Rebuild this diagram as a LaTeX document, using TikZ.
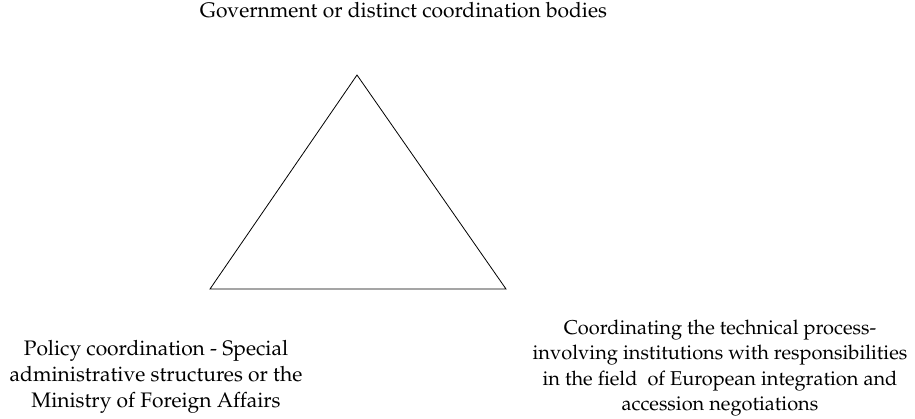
\documentclass[tikz,border=0pt]{standalone}
\usepackage[T1]{fontenc}
\usepackage{mathpazo}
\usepackage{tikz}

\tikzset{
    label text/.style={align=center, font=\fontsize{21}{26}\selectfont, inner sep=0pt},
    small label/.style={label text, font=\fontsize{20}{25.5}\selectfont}
}

\begin{document}
\begin{tikzpicture}[x=1pt, y=1pt]

    \useasboundingbox (0, 0) rectangle (915, 418);

    % Triangle in the middle
    \coordinate (apex) at (357, 343);
    \coordinate (baseleft) at (210, 129);
    \coordinate (baseright) at (506, 129);

    \draw[line width=0.8pt] (apex) -- (baseleft) -- (baseright) -- cycle;

    % Labels at the corners
    \node[label text, anchor=base] (gov) at (403.5, 400) {Government or distinct coordination bodies};

    \node[label text] (policy) at (156, 41) {Policy coordination - Special\\administrative structures or the\\Ministry of Foreign Affairs};

    \node[small label] (technical) at (720, 50) {Coordinating the technical process-\\involving institutions with responsibilities\\in the field\ \ of European integration and\\accession negotiations};

\end{tikzpicture}
\end{document}
